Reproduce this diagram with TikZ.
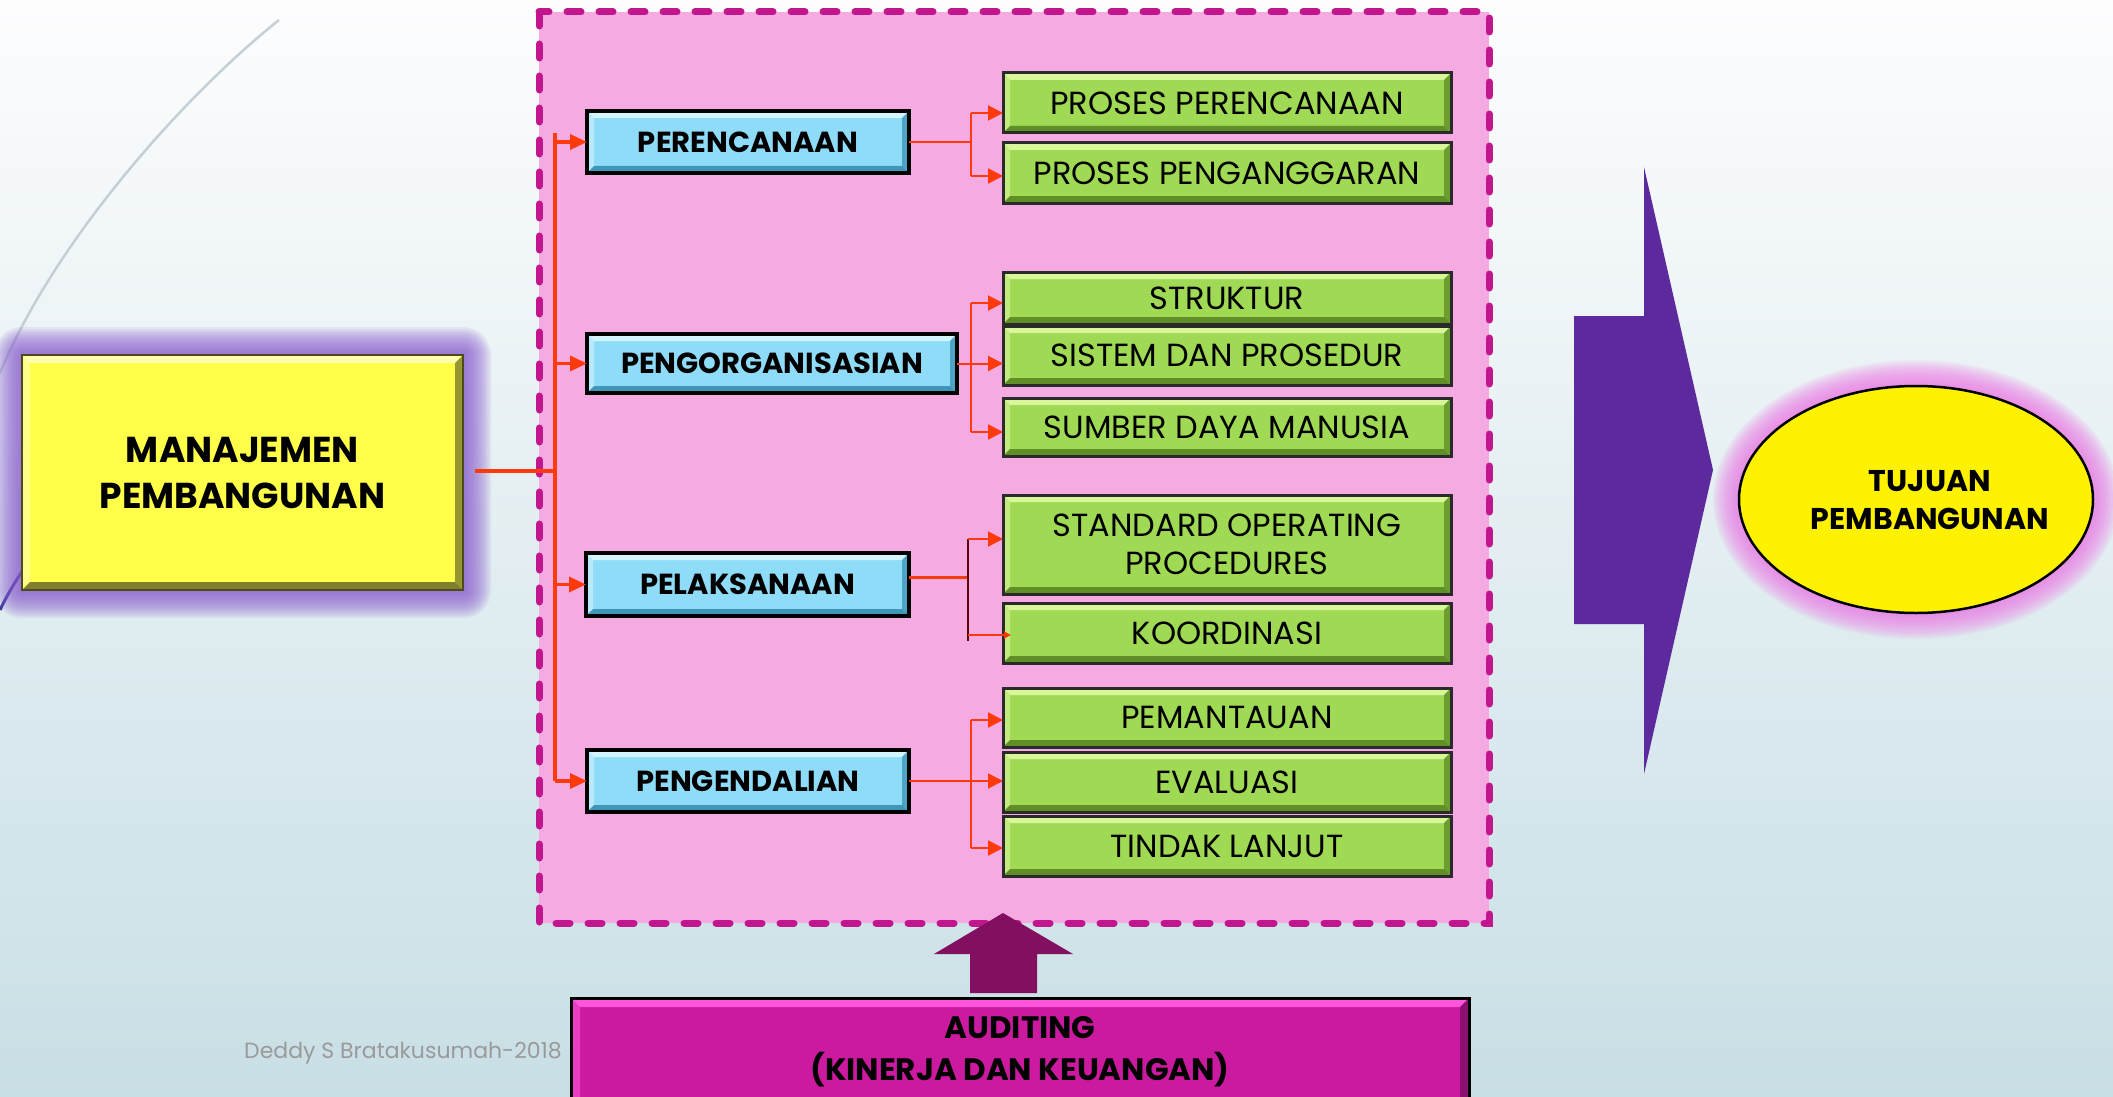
\documentclass[tikz,border=0pt]{standalone}
\usepackage{fontspec}
\setmainfont{Poppins}
\usetikzlibrary{arrows.meta,shapes.geometric}
\pgfdeclarelayer{bg}\pgfdeclarelayer{glow}\pgfsetlayers{bg,glow,main}
\definecolor{bgtop}{HTML}{FDFDFE}
\definecolor{bgbot}{HTML}{C8DFE5}
\definecolor{bluebase}{HTML}{8EDCF8}
\definecolor{bluelight}{HTML}{D4F4FF}
\definecolor{bluedark}{HTML}{3F96B8}
\definecolor{greenbase}{HTML}{A0DA55}
\definecolor{greenlight}{HTML}{D8F79A}
\definecolor{greendark}{HTML}{5F8F26}
\definecolor{greendraw}{HTML}{2A2A2A}
\definecolor{yelbase}{HTML}{FFFF4A}
\definecolor{yellight}{HTML}{FFFFB0}
\definecolor{yeldark}{HTML}{7E7E2C}
\definecolor{magbase}{HTML}{CC1AA0}
\definecolor{maglight}{HTML}{FF55DD}
\definecolor{magdark}{HTML}{7A0F66}
\definecolor{pinkfill}{HTML}{F5AAE2}
\definecolor{dashcol}{HTML}{C2168E}
\definecolor{redc}{HTML}{FF3A0A}
\definecolor{darkbr}{HTML}{5A0A0A}
\definecolor{purparrow}{HTML}{5C2A9D}
\definecolor{audarrow}{HTML}{820F60}
\definecolor{glowpurple}{HTML}{8A5CD0}
\definecolor{glowpink}{HTML}{EE7AE6}
\definecolor{curvecol}{HTML}{C5CFD6}
\definecolor{curvedark}{HTML}{3A3A9A}
\definecolor{wmark}{HTML}{9A9A9A}
\newcommand\bevelpic[3]{%
 \fill[#1] (path picture bounding box.north west) -- (path picture bounding box.north east) -- ([xshift=-#3pt,yshift=-#3pt]path picture bounding box.north east) -- ([xshift=#3pt,yshift=-#3pt]path picture bounding box.north west) -- cycle;
 \fill[#1,opacity=0.6] (path picture bounding box.north west) -- ([xshift=#3pt,yshift=-#3pt]path picture bounding box.north west) -- ([xshift=#3pt,yshift=#3pt]path picture bounding box.south west) -- (path picture bounding box.south west) -- cycle;
 \fill[#2] (path picture bounding box.south west) -- (path picture bounding box.south east) -- ([xshift=-#3pt,yshift=#3pt]path picture bounding box.south east) -- ([xshift=#3pt,yshift=#3pt]path picture bounding box.south west) -- cycle;
 \fill[#2,opacity=0.8] (path picture bounding box.north east) -- (path picture bounding box.south east) -- ([xshift=-#3pt,yshift=#3pt]path picture bounding box.south east) -- ([xshift=-#3pt,yshift=-#3pt]path picture bounding box.north east) -- cycle;
}
\tikzset{
 basebox/.style={rectangle, inner sep=0pt, outer sep=0pt, align=center},
 bluebox/.style={basebox, fill=bluebase, draw=black, line width=4pt,
   font=\fontsize{29}{35}\selectfont\bfseries, path picture={\bevelpic{bluelight}{bluedark}{7}}},
 greenbox/.style={basebox, fill=greenbase, draw=greendraw, line width=3pt,
   font=\fontsize{32}{38}\selectfont, path picture={\bevelpic{greenlight}{greendark}{7}}},
 yelbox/.style={basebox, fill=yelbase, draw=yeldark!60!black, line width=1.5pt,
   font=\fontsize{36}{46}\selectfont\bfseries, path picture={\bevelpic{yellight}{yeldark}{8}}},
 magbox/.style={basebox, fill=magbase, draw=black, line width=3pt,
   font=\fontsize{31}{42}\selectfont\bfseries, path picture={\bevelpic{maglight}{magdark}{9}}},
 redline/.style={draw=redc, line width=2pt},
 trunkline/.style={draw=redc, line width=3.5pt},
 trunkarr/.style={draw=redc, line width=3.5pt, -{Triangle[length=17pt,width=15pt]}},
 redarr/.style={draw=redc, line width=2pt, -{Triangle[length=15pt,width=15pt]}},
}
\begin{document}
\begin{tikzpicture}[x=1pt,y=-1pt]
\useasboundingbox (0,0) rectangle (2113,1097);
\begin{pgfonlayer}{bg}
 \shade[top color=bgtop, bottom color=bgbot] (0,0) rectangle (2113,1097);
 \draw[curvecol, line width=2.5pt] (279,20) .. controls (185,95) and (55,240) .. (0,373);
 \draw[curvedark, line width=3pt] (30,560) .. controls (18,577) and (8,593) .. (0,610);
\end{pgfonlayer}

% dashed container
\draw[fill=pinkfill, draw=dashcol, line width=7pt, dash pattern=on 14pt off 18pt, line cap=round] (539,12) rectangle (1489,923);

% main boxes
\node[yelbox, minimum width=441pt, minimum height=235pt] (man) at (242.5,472.5) {MANAJEMEN\\PEMBANGUNAN};

\node[bluebox, minimum width=322pt, minimum height=62pt] (per) at (748,142) {PERENCANAAN};
\node[bluebox, minimum width=370pt, minimum height=59pt] (org) at (772,363.5) {PENGORGANISASIAN};
\node[bluebox, minimum width=323pt, minimum height=63pt] (pel) at (747.5,584.5) {PELAKSANAAN};
\node[bluebox, minimum width=322pt, minimum height=62pt] (pen) at (748,781) {PENGENDALIAN};

\node[greenbox, minimum width=448pt, minimum height=60pt] (g1) at (1227,103) {PROSES PERENCANAAN};
\node[greenbox, minimum width=448pt, minimum height=60pt] (g2) at (1227,173) {PROSES PENGANGGARAN};
\node[greenbox, minimum width=448pt, minimum height=52pt] (g3) at (1227,298) {STRUKTUR};
\node[greenbox, minimum width=448pt, minimum height=59pt] (g4) at (1227,355.5) {SISTEM DAN PROSEDUR};
\node[greenbox, minimum width=448pt, minimum height=58pt] (g5) at (1227,427) {SUMBER DAYA MANUSIA};
\node[greenbox, minimum width=448pt, minimum height=99pt] (g6) at (1227,544.5) {STANDARD OPERATING\\PROCEDURES};
\node[greenbox, minimum width=448pt, minimum height=60pt] (g7) at (1227,633) {KOORDINASI};
\node[greenbox, minimum width=448pt, minimum height=59pt] (g8) at (1227,717.5) {PEMANTAUAN};
\node[greenbox, minimum width=448pt, minimum height=60pt] (g9) at (1227,782) {EVALUASI};
\node[greenbox, minimum width=448pt, minimum height=60pt] (g10) at (1227,846) {TINDAK LANJUT};

% trunk
\coordinate (ttop) at (555,133);
\draw[trunkline] ([xshift=12pt]man.east |- 0,471) -- (ttop |- 0,471);
\draw[trunkline] (ttop) -- (ttop |- pen.west);
\draw[trunkarr] (ttop |- per.west) -- (per.west);
\draw[trunkarr] (ttop |- org.west) -- (org.west);
\draw[trunkarr] (ttop |- pel.west) -- (pel.west);
\draw[trunkarr] (ttop |- pen.west) -- (pen.west);

% perencanaan branch
\coordinate (b1) at (971,113);
\coordinate (b1b) at (971,176);
\draw[redline] (per.east) -- (per.east -| b1);
\draw[redline] (b1) -- (b1b);
\draw[redarr] (b1) -- (b1 -| g1.west);
\draw[redarr] (b1b) -- (b1b -| g2.west);

% pengorganisasian branch
\coordinate (b2) at (971,303);
\coordinate (b2b) at (971,432);
\draw[redline] (b2) -- (b2b);
\draw[redarr] (org.east) -- (org.east -| g4.west);
\draw[redarr] (b2) -- (b2 -| g3.west);
\draw[redarr] (b2b) -- (b2b -| g5.west);

% pelaksanaan branch
\coordinate (b3) at (968,539);
\coordinate (b3b) at (968,641);
\coordinate (b3c) at (968,635);
\draw[redline, line width=3pt] ([yshift=7.5pt]pel.east) -- ([yshift=7.5pt]pel.east -| b3);
\draw[darkbr, line width=2pt] (b3) -- (b3b);
\draw[redarr] (b3) -- (b3 -| g6.west);
\draw[redline, -{Triangle[length=7pt,width=7pt]}] (b3c) -- ([xshift=8pt]b3c -| g7.west);

% pengendalian branch
\coordinate (b4) at (971,720);
\coordinate (b4b) at (971,848);
\draw[redline] (b4) -- (b4b);
\draw[redarr] (pen.east) -- (pen.east -| g9.west);
\draw[redarr] (b4) -- (b4 -| g8.west);
\draw[redarr] (b4b) -- (b4b -| g10.west);

% auditing
\node[magbox, minimum width=898pt, minimum height=108pt] (aud) at (1020,1052) {AUDITING\\(KINERJA DAN KEUANGAN)};
\fill[audarrow] (1003,913) -- (1073,954) -- (1037,954) -- (1037,993) -- (970,993) -- (970,954) -- (934,954) -- cycle;

% big purple arrow
\fill[purparrow] (1574,316) -- (1644,316) -- (1644,167) -- (1713,470) -- (1644,774) -- (1644,624) -- (1574,624) -- cycle;

% goal ellipse
\node[ellipse, inner sep=0pt, minimum width=354pt, minimum height=227pt, fill=yellow, draw=black, line width=2.5pt] (tuj) at (1916,499.5) {};
\node[inner sep=0pt, align=center, font=\fontsize{30}{38}\selectfont\bfseries] (tujl) at (1930,500.5) {TUJUAN\\PEMBANGUNAN};

% glows
\begin{pgfonlayer}{glow}
 \foreach \i in {1,...,14} {
  \fill[glowpurple, opacity=0.1, rounded corners=2*\i pt] ([xshift=-2*\i pt, yshift=2*\i pt]man.north west) rectangle ([xshift=2*\i pt, yshift=-2*\i pt]man.south east);
 }
 \foreach \i in {1,...,13} {
  \fill[glowpink, opacity=0.11] (tuj.center) ellipse [x radius=177+2*\i, y radius=113.5+2*\i];
 }
\end{pgfonlayer}

% watermark
\node[anchor=west, inner sep=0pt, text=wmark, font=\fontsize{22}{26}\selectfont] (wm) at (244,1053) {Deddy S Bratakusumah-2018};
\end{tikzpicture}
\end{document}
